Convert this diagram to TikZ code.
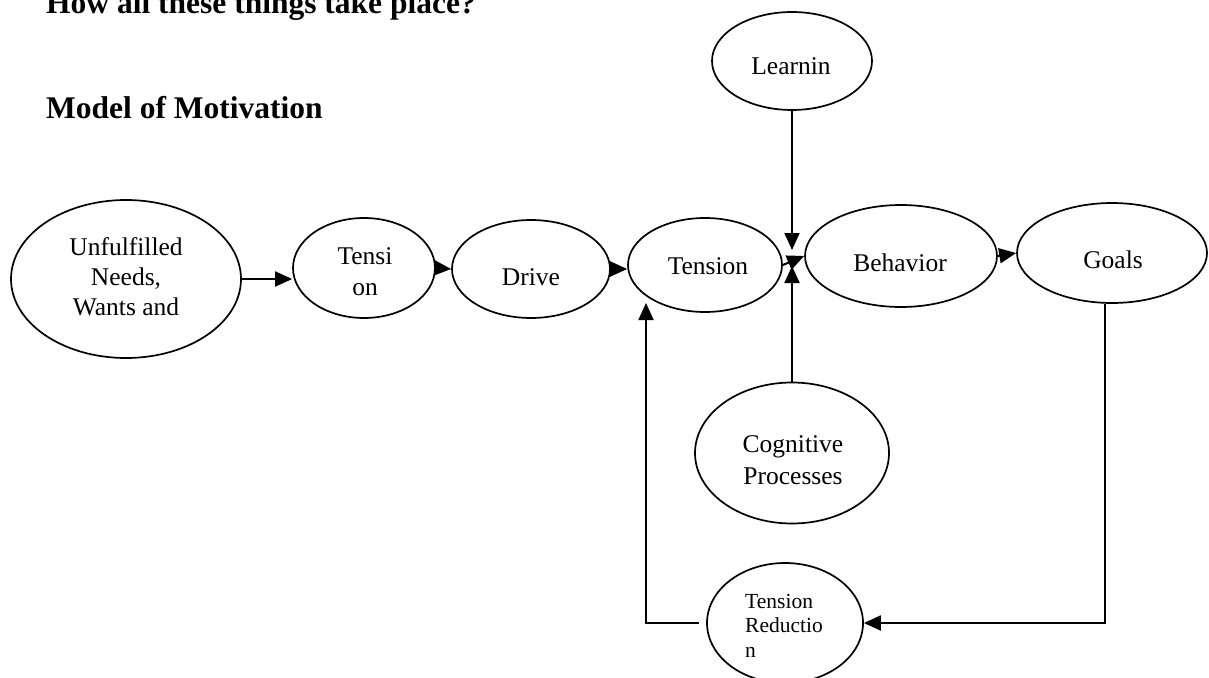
\documentclass[tikz,border=0pt]{standalone}
\usepackage{fontspec}
\setmainfont{Liberation Serif}
\usetikzlibrary{shapes.geometric,arrows.meta}

\tikzset{
  bubble/.style={ellipse, draw, line width=1.7pt, inner sep=0pt},
  label text/.style={inner sep=0pt, font=\fontsize{25.5}{30}\selectfont, align=center},
  small text/.style={inner sep=0pt, font=\fontsize{21.5}{24.5}\selectfont, align=left, anchor=west},
  heading/.style={inner sep=0pt, anchor=base west, font=\bfseries\fontsize{31.5}{38}\selectfont},
  arr/.style={line width=2pt, -{Triangle[length=17pt,width=15pt]}}
}

\begin{document}
\begin{tikzpicture}[x=1pt, y=-1pt]
  \useasboundingbox (0,0) rectangle (1209,677);

  % headings
  \node[heading] (h1) at (46,14) {How all these things take place?};
  \node[heading] (h2) at (46,118) {Model of Motivation};

  % ellipses
  \node[bubble, minimum width=230pt, minimum height=158pt] (U)  at (126,279) {};
  \node[bubble, minimum width=142pt, minimum height=100pt] (T1) at (364,268) {};
  \node[bubble, minimum width=158pt, minimum height=98pt]  (D)  at (531,269) {};
  \node[bubble, minimum width=154pt, minimum height=94pt]  (T2) at (705,265) {};
  \node[bubble, minimum width=192pt, minimum height=102pt] (B)  at (901,256) {};
  \node[bubble, minimum width=190pt, minimum height=100pt] (G)  at (1112,253) {};
  \node[bubble, minimum width=160pt, minimum height=98pt]  (L)  at (792,61) {};
  \node[bubble, minimum width=194pt, minimum height=141pt] (C)  at (792,453) {};
  \node[bubble, minimum width=156pt, minimum height=120pt] (TR) at (785,623) {};

  % texts
  \node[label text] (Ut)  at (126,277) {Unfulfilled\\Needs,\\Wants and};
  \node[label text, font=\fontsize{25.5}{31}\selectfont] (T1t) at (365,272) {Tensi\\on};
  \node[label text] (Dt)  at (531,277) {Drive};
  \node[label text] (T2t) at (708,266.5) {Tension};
  \node[label text] (Bt)  at (900,262.5) {Behavior};
  \node[label text] (Gt)  at (1113,259.5) {Goals};
  \node[label text] (Lt)  at (791,66.5) {Learnin};
  \node[label text, font=\fontsize{25.5}{32}\selectfont] (Ct) at (793,460.5) {Cognitive\\Processes};
  \node[small text] (TRt) at (745,625.5) {Tension\\Reductio\\n};

  % junction points
  \coordinate (jtop) at (792,250);
  \coordinate (jbot) at (792,266);
  \coordinate (fb)   at (646,303);

  % connectors
  \draw[arr] (U.east) -- (U.east -| T1.west);
  \draw[arr] (T1.east) -- (D.west);
  \draw[arr] (D.east) -- (D.east -| T2.west);
  \draw[arr] (T2.east) -- (B.west);
  \draw[arr] (B.east) -- (G.west);
  \draw[arr] (L.south) -- (jtop);
  \draw[arr] (C.north) -- (jbot);
  \draw[arr] ([xshift=-7pt]G.south) |- (TR.east);
  \draw[arr] ([xshift=-7pt]TR.west) -| (fb);
\end{tikzpicture}
\end{document}
